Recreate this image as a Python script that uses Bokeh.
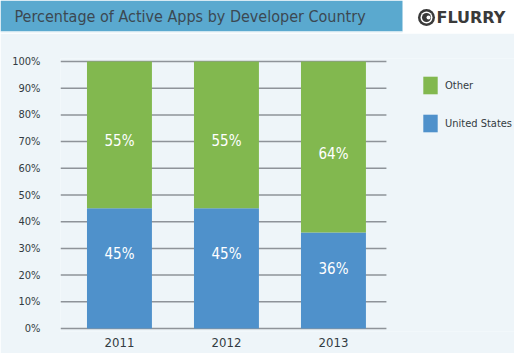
from bokeh.plotting import figure
from bokeh.models import (ColumnDataSource, Range1d, FixedTicker, Legend,
                          LegendItem, Label, BoxAnnotation)
from bokeh.layouts import column
from bokeh.core.properties import value
from bokeh.embed import file_html
from bokeh.resources import INLINE

# ---- data ----
years = ["2011", "2012", "2013"]
united_states = [45, 45, 36]
other = [55, 55, 64]
y_ticks = [0, 10, 20, 30, 40, 50, 60, 70, 80, 90, 100]
y_tick_labels = ["0%", "10%", "20%", "30%", "40%", "50%", "60%", "70%", "80%", "90%", "100%"]
series_names = ["Other", "United States"]
title_text = "Percentage of Active Apps by Developer Country"
brand_text = "FLURRY"

FONT = "'DejaVu Sans Condensed', 'Roboto', sans-serif"
BG = "#eef5f9"
GREEN = "#82b84f"
BLUE = "#4f91cb"
BANNER = "#5aa9cf"
DARK = "#3c4852"
LABEL = "#333b42"
GRID = "#8e9399"

W = 514
TOP_H = 33

# ---- banner figure ----
top = figure(width=W, height=TOP_H, x_range=Range1d(0, W), y_range=Range1d(0, TOP_H),
             x_axis_type=None, y_axis_type=None, toolbar_location=None,
             output_backend="svg", min_border=0, outline_line_color=None,
             background_fill_color="white", border_fill_color="white")
top.frame_align = False
top.grid.visible = False
top.add_layout(BoxAnnotation(left=0, right=402, bottom=2, top=TOP_H,
                             fill_color=BANNER, fill_alpha=1, line_alpha=0))
top.add_layout(BoxAnnotation(left=0, right=402, bottom=0, top=2,
                             fill_color=BG, fill_alpha=1, line_alpha=0))
top.add_layout(Label(x=14, y=17, text=title_text, text_font=FONT, text_font_size="16px",
                     text_color=DARK, text_baseline="middle"))
top.scatter(x=[426], y=[16], size=17, fill_color="#3a3a3a", line_color=None)
top.scatter(x=[426], y=[16], size=12, fill_color="white", line_color=None)
top.scatter(x=[426], y=[16], size=9, fill_color="#3a3a3a", line_color=None)
top.scatter(x=[428], y=[16], size=4, fill_color="white", line_color=None)
top.add_layout(Label(x=436, y=16, text=brand_text, text_font="DejaVu Sans",
                     text_font_style="bold", text_font_size="16px",
                     text_color="#3a3a3a", text_baseline="middle"))

# ---- main chart ----
xs = list(range(len(years)))
src = ColumnDataSource(dict(
    x=xs,
    us=united_states,
    other=other,
    us_lbl=[f"{v}%" for v in united_states],
    other_lbl=[f"{v}%" for v in other],
    us_y=[v * 0.62 for v in united_states],
    other_y=[u + o * 0.46 for u, o in zip(united_states, other)],
))

p = figure(width=W, height=320, x_range=Range1d(-0.551, 3.692), y_range=Range1d(-1.12, 101.12),
           toolbar_location=None, output_backend="svg",
           min_border_left=60, min_border_right=0, min_border_top=25, min_border_bottom=22,
           background_fill_color=BG, border_fill_color=BG, outline_line_color=None)
p.frame_align = False
p.xgrid.visible = False
p.ygrid.visible = False

# horizontal grid lines, one per y tick
p.segment(x0=[-0.551] * len(y_ticks), x1=[len(years) - 0.505] * len(y_ticks),
          y0=y_ticks, y1=y_ticks, line_color=GRID, line_width=1.5)

rs = p.vbar_stack(["us", "other"], x="x", width=0.607, source=src,
                  color=[BLUE, GREEN], line_color=None)

p.text(x="x", y="us_y", text="us_lbl", source=src, text_color="white",
       text_font=value(FONT), text_font_size="15px", text_align="center",
       text_baseline="middle")
p.text(x="x", y="other_y", text="other_lbl", source=src, text_color="white",
       text_font=value(FONT), text_font_size="15px", text_align="center",
       text_baseline="middle")

p.yaxis.ticker = FixedTicker(ticks=y_ticks)
p.yaxis.major_label_overrides = {t: l for t, l in zip(y_ticks, y_tick_labels)}
p.xaxis.ticker = FixedTicker(ticks=xs)
p.xaxis.major_label_overrides = {x: y for x, y in zip(xs, years)}

for ax in (p.xaxis[0], p.yaxis[0]):
    ax.axis_line_color = None
    ax.major_tick_line_color = None
    ax.minor_tick_line_color = None
    ax.major_tick_out = 0
    ax.major_tick_in = 0
    ax.minor_tick_out = 0
    ax.minor_tick_in = 0
    ax.major_label_text_font = FONT
    ax.major_label_text_color = LABEL
p.yaxis.major_label_text_font_size = "11px"
p.yaxis.major_label_standoff = 20
p.xaxis.major_label_text_font_size = "13px"
p.xaxis.major_label_standoff = 6

legend = Legend(items=[LegendItem(label=series_names[0], renderers=[rs[1]]),
                       LegendItem(label=series_names[1], renderers=[rs[0]])],
                location=(361, 197), glyph_width=18, glyph_height=22, spacing=16,
                label_standoff=6, padding=0, margin=0,
                label_text_font=FONT, label_text_font_size="11px",
                label_text_color=LABEL, background_fill_alpha=0, border_line_alpha=0)
p.add_layout(legend)

layout = column(top, p, spacing=0)
open("out.html", "w").write(file_html(layout, INLINE))
